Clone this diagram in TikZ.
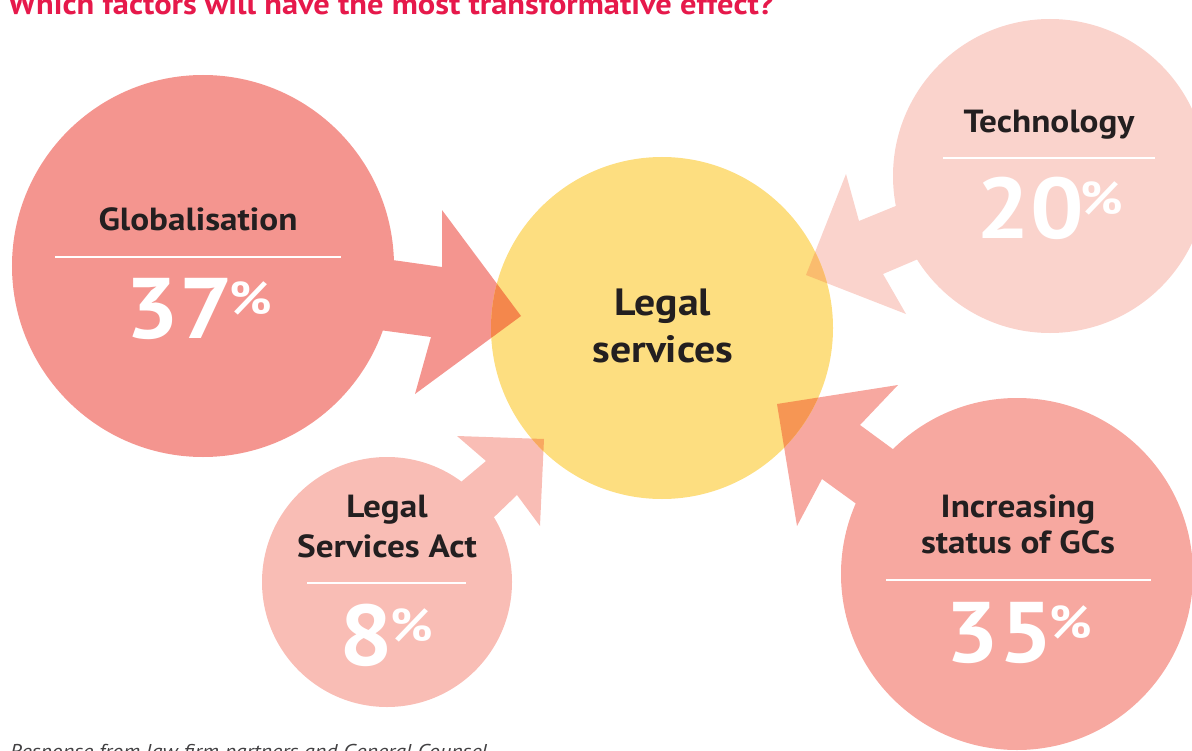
\documentclass[tikz,border=0pt]{standalone}
\usepackage{fontspec}
\setmainfont{PT Sans}[FakeStretch=1.1]
\definecolor{globc}{RGB}{244,149,143}
\definecolor{techc}{RGB}{250,211,204}
\definecolor{lsac}{RGB}{249,189,181}
\definecolor{gcc}{RGB}{247,168,160}
\definecolor{legalc}{RGB}{253,222,128}
\definecolor{globov}{RGB}{244,135,76}
\definecolor{techov}{RGB}{250,188,110}
\definecolor{lsaov}{RGB}{248,168,96}
\definecolor{gcov}{RGB}{246,150,84}
\definecolor{txt}{RGB}{35,31,32}
\definecolor{titlec}{RGB}{230,25,75}
\definecolor{footc}{RGB}{65,64,66}
\newcommand\pctsign{{\kern-3bp\fontsize{46bp}{46bp}\selectfont\raisebox{24bp}{\%}}}
\def\arrowglob{(350,254) -- (442,267) -- (442,210) -- (521,316) -- (415,394) -- (431,337) -- (350,326) -- cycle}
\def\arrowtech{(806,275) -- (846,174) -- (859,221) -- (930,192) -- (930,254) -- (883,274) -- (906,314) -- cycle}
\def\arrowlsa{(544,439) -- (457,436) -- (486,461) -- (430,508) -- (462,548) -- (517,495) -- (540,526) -- cycle}
\def\arrowgc{(777,404) -- (898,385) -- (860,425) -- (950,491) -- (920,550) -- (822,479) -- (797,526) -- cycle}
\tikzset{
  lbl/.style={font=\bfseries\fontsize{32bp}{38bp}\selectfont, text=txt, anchor=base, inner sep=0pt},
  pct/.style={font=\bfseries\fontsize{86bp}{86bp}\selectfont, text=white, anchor=base, inner sep=0pt},
  bubble/.style={circle, inner sep=0pt, draw=none},
  sepline/.style={draw=white, line width=2bp},
}
\begin{document}
\begin{tikzpicture}[x=1bp,y=-1bp]
\useasboundingbox (0,0) rectangle (1192,751);
\clip (0,0) rectangle (1192,751);
% arrows
\fill[globc] \arrowglob;
\fill[techc] \arrowtech;
\fill[lsac] \arrowlsa;
\fill[gcc] \arrowgc;
% factor circles
\node[bubble, fill=globc, minimum size=382bp] (glob) at (203,266) {};
\node[bubble, fill=techc, minimum size=314bp] (tech) at (1050,176) {};
\node[bubble, fill=lsac, minimum size=250bp] (lsa) at (387,582) {};
\node[bubble, fill=gcc, minimum size=352bp] (gc) at (1017,574) {};
% central circle
\node[bubble, fill=legalc, minimum size=342bp] (legal) at (662,328) {};
\begin{scope}
  \clip (662,328) circle[radius=171];
  \fill[globov] \arrowglob;
  \fill[techov] \arrowtech;
  \fill[lsaov] \arrowlsa;
  \fill[gcov] \arrowgc;
\end{scope}
% central text
\node[lbl, font=\bfseries\fontsize{38bp}{44bp}\selectfont] (legal1) at (663,315) {Legal};
\node[lbl, font=\bfseries\fontsize{38bp}{44bp}\selectfont] (legal2) at (663,362) {services};
% Globalisation
\node[lbl] (globlab) at (198,230) {Globalisation};
\draw[sepline] (55,257) -- (341,257);
\node[pct] (globpct) at (199,338) {37\pctsign};
% Technology
\node[lbl] (techlab) at (1049,132) {Technology};
\draw[sepline] (943,158) -- (1155,158);
\node[pct] (techpct) at (1050,238) {20\pctsign};
% Legal Services Act
\node[lbl] (lsalab1) at (387,517) {Legal};
\node[lbl] (lsalab2) at (387,557) {Services Act};
\draw[sepline] (307,583) -- (466,583);
\node[pct] (lsapct) at (386,665) {8\pctsign};
% GCs
\node[lbl] (gclab1) at (1018,517) {Increasing};
\node[lbl] (gclab2) at (1018,553) {status of GCs};
\draw[sepline] (886,580) -- (1151,580);
\node[pct] (gcpct) at (1019,662) {35\pctsign};
% title and footer
\node[anchor=base west, inner sep=0pt, text=titlec, font=\bfseries\fontsize{29.5bp}{34bp}\selectfont] (title) at (8,15) {Which factors will have the most transformative effect?};
\node[anchor=base west, inner sep=0pt, text=footc, font=\itshape\fontsize{20bp}{24bp}\selectfont] (foot) at (10,758) {Response from law firm partners and General Counsel};
\end{tikzpicture}
\end{document}
